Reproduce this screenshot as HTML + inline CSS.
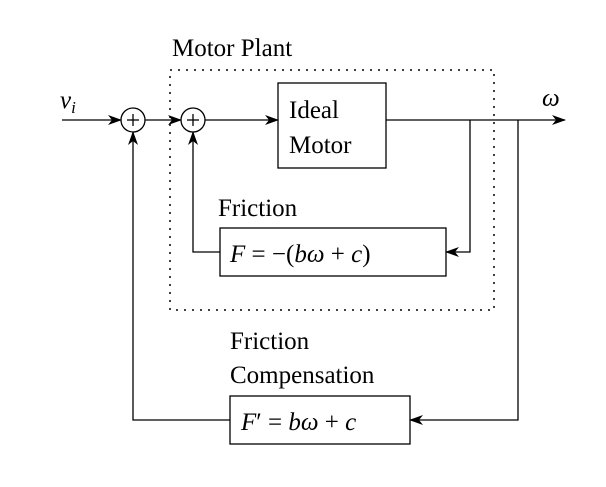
<!DOCTYPE html>
<html><head><meta charset="utf-8"><style>
body{margin:0;background:#fff}
text{font-family:"Liberation Serif","DejaVu Serif","Times New Roman",serif;font-size:25px;fill:#000}
.m{font-style:italic}
</style></head><body>
<svg width="606" height="482" viewBox="0 0 606 482" xmlns="http://www.w3.org/2000/svg">
<defs><marker id="a" markerWidth="14" markerHeight="10" refX="13" refY="5" orient="auto" markerUnits="userSpaceOnUse"><path d="M0,0 L14,5 L0,10 L4,5 Z" fill="#000"/></marker></defs>
<g stroke="#000" stroke-width="1.3" fill="none">
<rect x="170" y="70" width="324" height="240" stroke-dasharray="2,6" stroke-width="1.5"/>
<line x1="62" y1="120" x2="121" y2="120" marker-end="url(#a)"/>
<circle cx="133" cy="120" r="12"/>
<line x1="127" y1="120" x2="139" y2="120"/><line x1="133" y1="114" x2="133" y2="126"/>
<line x1="145" y1="120" x2="181" y2="120" marker-end="url(#a)"/>
<circle cx="193" cy="120" r="12"/>
<line x1="187" y1="120" x2="199" y2="120"/><line x1="193" y1="114" x2="193" y2="126"/>
<line x1="205" y1="120" x2="278" y2="120" marker-end="url(#a)"/>
<rect x="278" y="83" width="108" height="85"/>
<line x1="386" y1="120" x2="565" y2="120" marker-end="url(#a)"/>
<polyline points="470,120 470,252 446,252" marker-end="url(#a)"/>
<rect x="220" y="228" width="226" height="48"/>
<polyline points="220,252 193,252 193,132" marker-end="url(#a)"/>
<polyline points="518,120 518,420 410,420" marker-end="url(#a)"/>
<rect x="230" y="396" width="180" height="48"/>
<polyline points="230,420 133,420 133,132" marker-end="url(#a)"/>
</g>
<text x="172" y="56">Motor Plant</text>
<text class="m" x="60" y="108">v<tspan font-size="17" dy="5">i</tspan></text>
<text class="m" x="542" y="106">ω</text>
<text x="289" y="118">Ideal</text>
<text x="289" y="153">Motor</text>
<text x="218" y="216">Friction</text>
<text x="230" y="262"><tspan class="m">F</tspan> = −(<tspan class="m">bω</tspan> + <tspan class="m">c</tspan>)</text>
<text x="230" y="349">Friction</text>
<text x="230" y="383">Compensation</text>
<text x="241" y="430"><tspan class="m">F</tspan>′ = <tspan class="m">bω</tspan> + <tspan class="m">c</tspan></text>
</svg>
</body></html>
